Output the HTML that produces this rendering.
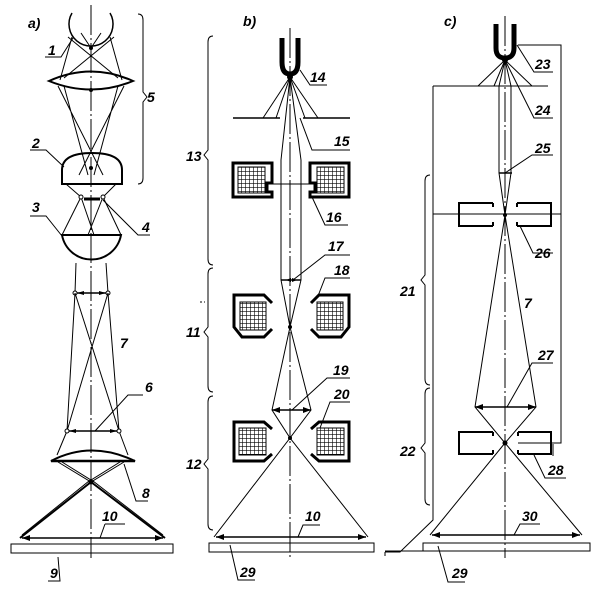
<!DOCTYPE html>
<html><head><meta charset="utf-8"><style>
html,body{margin:0;padding:0;background:#fff;}
svg{display:block}
text{font-family:"Liberation Sans",sans-serif;font-style:italic;font-weight:bold;font-size:14px;fill:#000}
</style></head><body>
<svg width="606" height="589" viewBox="0 0 606 589" xmlns="http://www.w3.org/2000/svg">
<defs>
<pattern id="grid" width="4" height="4" patternUnits="userSpaceOnUse">
<rect width="4" height="4" fill="#fff"/><path d="M0 0H4M0 0V4" stroke="#000" stroke-width="1.2"/>
</pattern>
<g id="coilL">
<path d="M0 0H39V20H34V29H39V34H0Z" fill="#fff" stroke="#000" stroke-width="3"/>
<rect x="5" y="4" width="27" height="26" fill="url(#grid)" stroke="#000" stroke-width="1"/>
</g>
<g id="coilH">
<path d="M38 8 L30 0 H0 V32 L8 42 H30 L38 34" fill="none" stroke="#000" stroke-width="3"/>
<rect x="6" y="7" width="26" height="28" fill="url(#grid)" stroke="#000" stroke-width="1"/>
</g>
<g id="coilS">
<path d="M38 7 L30 0 H0 V39 H30 L38 32" fill="none" stroke="#000" stroke-width="3"/>
<rect x="5" y="6" width="27" height="27" fill="url(#grid)" stroke="#000" stroke-width="1"/>
</g>
</defs>
<g fill="none" stroke="#000" stroke-width="1">
<!-- ===== Panel a ===== -->
<line x1="91" y1="5" x2="91" y2="558" stroke-dasharray="30,3,2,3"/>
<path d="M72 13 A22 22 0 1 0 110 13" stroke-width="1.5"/>
<path d="M81 33 L91 48 L101 33 M68 37 L118 78 M114 37 L64 78 M72 37 L60 80 M110 37 L122 80"/>
<path d="M49 81 Q91 62 133 81 Q91 98 49 81 Z" stroke-width="2"/>
<path d="M58 86 L103 175 M124 86 L79 175 M64 86 L88 175 M118 86 L94 175"/>
<path d="M62 170 Q62 153 92 153 Q122 153 122 170 V184 H62 Z" stroke-width="2"/>
<path d="M66 184 L81 197 L94 235 M116 184 L103 197 L88 235 M81 197 L62 235 M103 197 L121 235"/>
<circle cx="81" cy="197" r="2" fill="#fff"/><circle cx="103" cy="197" r="2" fill="#fff"/>
<line x1="84" y1="199" x2="100" y2="199" stroke-width="3"/>
<path d="M62 235 H121 A30 30 0 0 1 62 235 Z" stroke-width="2"/>
<path d="M76 263 L75 293 M106 263 L108 293"/>
<line x1="75" y1="293" x2="108" y2="293" stroke-width="1.5"/>
<circle cx="75" cy="293" r="2" fill="#fff"/><circle cx="108" cy="293" r="2" fill="#fff"/>
<path d="M75 293 L67 431 M108 293 L119 431 M75 293 L119 431 M108 293 L67 431 M67 431 L57 455 M119 431 L128 455"/>
<line x1="67" y1="431" x2="119" y2="431" stroke-width="1.5"/>
<circle cx="67" cy="431" r="2" fill="#fff"/><circle cx="119" cy="431" r="2" fill="#fff"/>
<path d="M51 461 Q91 440 135 461 Z" stroke-width="2"/>
<line x1="51" y1="461" x2="135" y2="461" stroke-width="2.5"/>
<path d="M58 462 L91 482 L124 462 M62 462 L91 480 L120 462"/>
<path d="M91 482 L20 538 M91 482 L165 538" stroke-width="2"/>
<path d="M89 481 L22 535 M93 481 L163 535"/>
<line x1="22" y1="538" x2="163" y2="538" stroke-width="1.5"/>
<rect x="11" y="544" width="162" height="9"/>
<path d="M138 14 Q143 14 143 20 V92 L147 97 L143 102 V178 Q143 184 138 184"/>
<!-- leaders a -->
<path d="M45 57 H61 L73 38 M30 150 H46 L64 167 M30 216 H46 L62 236 M150 235 H138 L103 200 M143 395 H128 L95 431 M148 501 H136 L124 464 M48 581 H60 L58 557 M105 524 H125 M105 524 L100 538"/>
<!-- ===== Panel b ===== -->
<line x1="290" y1="28" x2="290" y2="558" stroke-dasharray="30,3,2,3"/>
<path d="M282 38 V62 Q282 74 290 74 Q298 74 298 62 V38" stroke-width="5"/>
<path d="M286 38 V62 M294 38 V62" stroke="#fff" stroke-width="1.5" stroke-dasharray="2,2"/>
<circle cx="290" cy="77" r="2.5" fill="#000"/>
<path d="M233 118 H280 M303 118 H350" stroke-width="1.5"/>
<path d="M290 77 L263 118 M290 77 L276 118 M290 77 L305 118 M290 77 L318 118"/>
<path d="M290 77 L281 160 V280 L290 327 L272 410 L290 438 L214 537 M290 77 L301 160 V280 L290 327 L311 410 L290 438 L368 537"/>
<line x1="281" y1="280" x2="301" y2="280" stroke-width="1.5"/>
<line x1="272" y1="410" x2="311" y2="410" stroke-width="1.5"/>
<line x1="216" y1="537" x2="366" y2="537" stroke-width="1.5"/>
<line x1="268" y1="184" x2="312" y2="184"/>
<rect x="209" y="543" width="165" height="9"/>
<path d="M213 36 Q208 36 208 42 V150 L204 155 L208 160 V259 Q208 265 213 265"/>
<path d="M213 268 Q208 268 208 274 V327 L204 332 L208 337 V386 Q208 392 213 392"/>
<path d="M213 396 Q208 396 208 402 V459 L204 464 L208 469 V524 Q208 530 213 530"/>
<line x1="200" y1="302" x2="205" y2="302" stroke-dasharray="2,2"/>
<path d="M300 70 L310 85 H327 M300 118 L312 150 H350 M312 197 L325 225 H348 M293 280 L325 255 H350 M318 296 L325 278 H350 M292 410 L327 378 H350 M320 428 L330 402 H350 M298 537 L303 525 H320 M230 545 L238 580 H255"/>
<!-- ===== Panel c ===== -->
<line x1="505" y1="16" x2="505" y2="558" stroke-dasharray="30,3,2,3"/>
<path d="M496 24 V48 Q496 58 505 58 Q514 58 514 48 V24" stroke-width="5"/>
<path d="M500 24 V48 M510 24 V48" stroke="#fff" stroke-width="1.5" stroke-dasharray="2,2"/>
<circle cx="505" cy="60" r="2.5" fill="#000"/>
<path d="M518 45 H561 V443 H518 M433 86 H548 M433 86 V520 L400 552 H385 M385 552 V556 M553 444 V456" />
<path d="M505 60 L478 86 M505 60 L494 86 M505 60 L518 86 M505 60 L532 86"/>
<path d="M505 60 L499 86 V173 L505 215 L475 407 L505 443 L430 535 M505 60 L511 86 V173 L505 215 L536 407 L505 443 L582 535"/>
<line x1="499" y1="173" x2="512" y2="173" stroke-width="1.5"/>
<line x1="475" y1="407" x2="536" y2="407" stroke-width="1.5"/>
<line x1="432" y1="535" x2="580" y2="535" stroke-width="1.5"/>
<line x1="433" y1="214" x2="561" y2="214"/>
<path d="M493 203 H459 V226 H493 M493 203 V207 M493 222 V226 M517 203 H551 V226 H517 M517 203 V207 M517 222 V226" stroke-width="2"/>
<path d="M493 432 H459 V454 H493 M493 432 V436 M493 450 V454 M518 432 H551 V454 H518 M518 432 V436 M518 450 V454" stroke-width="2"/>
<rect x="423" y="543" width="167" height="8"/>
<path d="M385 551 H423"/>
<path d="M430 175 Q425 175 425 181 V275 L421 280 L425 285 V379 Q425 385 430 385"/>
<path d="M430 388 Q425 388 425 394 V443 L421 448 L425 453 V499 Q425 505 430 505"/>
<path d="M517 45 L534 72 H553 M518 86 L534 118 H553 M505 173 L532 155 H553 M520 226 L533 253 H553 M507 407 L532 363 H553 M534 455 L545 478 H566 M514 535 L520 524 H540 M438 546 L448 582 H465"/>
</g>
<!-- arrowheads -->
<g fill="#000">
<path d="M22 538 l8 -3 v6Z M163 538 l-8 -3 v6Z M216 537 l8 -3 v6Z M366 537 l-8 -3 v6Z M432 535 l8 -3 v6Z M580 535 l-8 -3 v6Z M475 407 l8 -3 v6Z M536 407 l-8 -3 v6Z M272 410 l8 -3 v6Z M311 410 l-8 -3 v6Z M286 280 l5 -2 v4Z M297 280 l-5 -2 v4Z M77 293 l7 -2 v4Z M106 293 l-7 -2 v4Z M69 431 l7 -2 v4Z M117 431 l-7 -2 v4Z"/>
<circle cx="91" cy="482" r="2.5"/><circle cx="290" cy="327" r="2"/><circle cx="290" cy="438" r="2"/><circle cx="505" cy="215" r="2"/><circle cx="505" cy="443" r="2.5"/><circle cx="91" cy="48" r="2"/><circle cx="91" cy="168" r="2"/><circle cx="91" cy="90" r="2"/>
</g>
<use href="#coilL" x="233" y="163"/>
<use href="#coilL" x="349" y="163" transform="translate(698 0) scale(-1 1) translate(0 0)" />
<use href="#coilH" x="234" y="295"/>
<use href="#coilH" x="-349" y="295" transform="scale(-1 1)"/>
<use href="#coilS" x="234" y="422"/>
<use href="#coilS" x="-349" y="422" transform="scale(-1 1)"/>
<!-- text -->
<text x="28" y="28" font-size="17">a)</text>
<text x="243" y="26" font-size="17">b)</text>
<text x="444" y="26" font-size="17">c)</text>
<text x="48" y="55">1</text><text x="32" y="148">2</text><text x="32" y="212">3</text>
<text x="142" y="232">4</text><text x="147" y="102">5</text><text x="145" y="392">6</text>
<text x="120" y="348">7</text><text x="142" y="498">8</text><text x="50" y="578">9</text>
<text x="102" y="521">10</text>
<text x="310" y="82">14</text><text x="334" y="146">15</text><text x="326" y="222">16</text>
<text x="328" y="251">17</text><text x="334" y="275">18</text><text x="333" y="375">19</text>
<text x="334" y="399">20</text><text x="305" y="521">10</text><text x="240" y="577">29</text>
<text x="186" y="161">13</text><text x="186" y="337">11</text><text x="186" y="469">12</text>
<text x="535" y="69">23</text><text x="535" y="115">24</text><text x="535" y="153">25</text>
<text x="535" y="258">26</text><text x="524" y="308">7</text><text x="538" y="360">27</text>
<text x="548" y="475">28</text><text x="522" y="521">30</text><text x="452" y="578">29</text>
<text x="400" y="296">21</text><text x="400" y="456">22</text>
</svg>
</body></html>
